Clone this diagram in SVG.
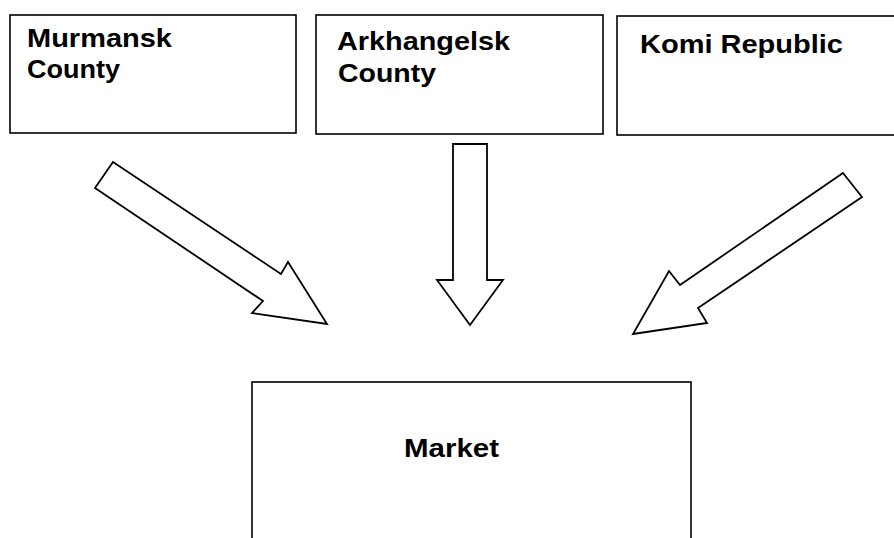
<svg xmlns="http://www.w3.org/2000/svg" width="894" height="538" viewBox="0 0 894 538">
<style>
.box{fill:#fff;stroke:#000;stroke-width:1.6}
.arr{fill:#fff;stroke:#000;stroke-width:1.8;stroke-linejoin:miter}
text{font-family:"Liberation Sans",Arial,sans-serif;font-weight:bold;font-size:25px;fill:#000}
</style>
<rect width="894" height="538" fill="#fff"/>
<g id="murmansk">
<rect class="box" x="10" y="15" width="286" height="118"/>
<text x="27" y="47" textLength="145" lengthAdjust="spacingAndGlyphs">Murmansk</text>
<text x="27" y="78" textLength="93" lengthAdjust="spacingAndGlyphs">County</text>
</g>
<g id="arkhangelsk">
<rect class="box" x="316" y="15" width="287" height="119"/>
<text x="337" y="50" textLength="173" lengthAdjust="spacingAndGlyphs">Arkhangelsk</text>
<text x="338" y="82" textLength="98" lengthAdjust="spacingAndGlyphs">County</text>
</g>
<g id="komi">
<rect class="box" x="617" y="16" width="290" height="119"/>
<text x="640" y="53" textLength="203" lengthAdjust="spacingAndGlyphs">Komi Republic</text>
</g>
<g id="market">
<rect class="box" x="252" y="382" width="439" height="170"/>
<text x="404" y="457" textLength="95" lengthAdjust="spacingAndGlyphs">Market</text>
</g>
<g id="connectors">
<polygon class="arr" points="113,162 281,274 288,262 327,324 252,313 263,301 95,188"/>
<polygon class="arr" points="453,144 487,144 487,280 503,280 470,325 437,280 453,280"/>
<polygon class="arr" points="843,173 862,197 698,308 707,323 633,334 669,271 680,285"/>
</g>
</svg>
